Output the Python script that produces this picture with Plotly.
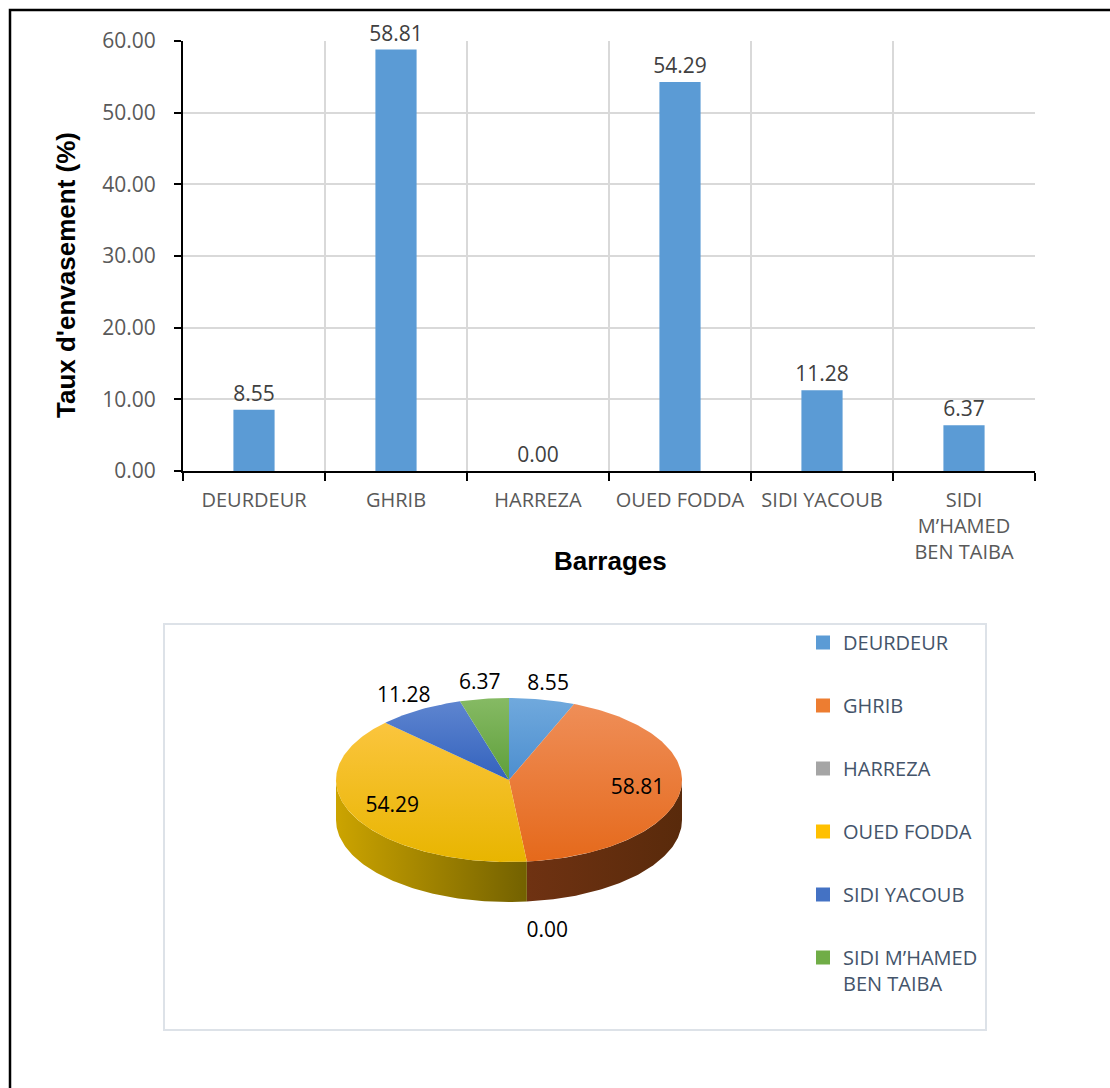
import numpy as np
import plotly.graph_objects as go

# ---------------- data ----------------
categories = ["DEURDEUR", "GHRIB", "HARREZA", "OUED FODDA", "SIDI YACOUB", "SIDI M’HAMED BEN TAIBA"]
bar_labels = ["DEURDEUR", "GHRIB", "HARREZA", "OUED FODDA", "SIDI YACOUB", "SIDI<br>M’HAMED<br>BEN TAIBA"]
legend_labels = ["DEURDEUR", "GHRIB", "HARREZA", "OUED FODDA", "SIDI YACOUB", "SIDI M’HAMED<br>BEN TAIBA"]
taux = [8.55, 58.81, 0.00, 54.29, 11.28, 6.37]
y_tick_values = [0, 10, 20, 30, 40, 50, 60]

y_title = "Taux d'envasement (%)"
x_title = "Barrages"

# ---------------- styles ----------------
W, H = 1110, 1088
BAR_COLOR = "#5B9BD5"
pie_colors = ["#5B9BD5", "#ED7D31", "#A5A5A5", "#FFC000", "#4472C4", "#70AD47"]
pie_top_grad = [("#4C8ECF", "#70A9DD"), ("#E5691B", "#EF8E58"), ("#8F8F8F", "#B5B5B5"),
                ("#E8B500", "#FBC53E"), ("#3362BD", "#5E85D0"), ("#5E9F3A", "#86BA64")]
pie_side_grad = [("#3D6E9C", "#2E5A85"), ("#6F3212", "#592A0B"), ("#6E6E6E", "#5A5A5A"),
                 ("#CCA400", "#736100"), ("#2C4C8A", "#223E73"), ("#4A7A2E", "#3B6324")]
XTICK_FONT = dict(family="Open Sans", size=20, color="#595959")
YTICK_FONT = dict(family="Open Sans", size=21, color="#595959")


def px_x(p):
    return p / W


def px_y(p):
    return 1 - p / H


fig = go.Figure()

# ---------------- bar chart ----------------
fig.add_trace(go.Bar(
    x=bar_labels, y=taux, marker=dict(color=BAR_COLOR, line=dict(width=0)),
    texttemplate="%{y:.2f}", textposition="outside", constraintext="none",
    textfont=dict(family="Open Sans", size=21, color="#404040"),
    cliponaxis=False, showlegend=False, hoverinfo="skip",
    xaxis="x", yaxis="y",
))

fig.update_layout(
    xaxis=dict(domain=[px_x(183), px_x(1035)], anchor="y", type="category",
               tickson="boundaries", ticks="outside", ticklen=8, tickwidth=2, tickcolor="black",
               showline=True, linecolor="black", linewidth=2,
               showgrid=True, gridcolor="#D9D9D9", gridwidth=1.5,
               tickfont=XTICK_FONT, ticklabelstandoff=10, automargin=False),
    yaxis=dict(domain=[px_y(471), px_y(41)], anchor="x", range=[0, 60],
               tickmode="array", tickvals=y_tick_values, tickformat=".2f",
               ticks="outside", ticklen=7, tickwidth=2, tickcolor="black",
               showline=True, linecolor="black", linewidth=2,
               showgrid=True, gridcolor="#D9D9D9", gridwidth=1.5, zeroline=False,
               tickfont=YTICK_FONT, ticklabelstandoff=14, automargin=False),
    bargap=0.71,
)

# ---------------- 3D-look pie (ellipse geometry) ----------------
SCALE = 173.0          # px per unit
CX, CY = 509.0, 780.0  # pie centre in px
A, B, D = 1.0, 82.0 / SCALE, 40.0 / SCALE
box_l, box_r, box_t, box_b = 164.5, 985.0, 624.5, 1029.0

total = sum(taux)
fracs = [v / total for v in taux]
starts = np.concatenate([[0.0], np.cumsum(fracs)[:-1]]) * 360.0
ends = starts + np.array(fracs) * 360.0


def arc(t0, t1):
    n = max(int(abs(t1 - t0) / 1.0) + 2, 3)
    t = np.radians(np.linspace(t0, t1, n))
    return A * np.sin(t), B * np.cos(t)

# side walls (front half only: 90..270 deg clockwise from 12 o'clock)
for i, (s, e) in enumerate(zip(starts, ends)):
    if taux[i] <= 0:
        continue
    t0, t1 = max(s, 90.0), min(e, 270.0)
    if t0 >= t1:
        continue
    ax_, ay_ = arc(t0, t1)
    xs = np.concatenate([ax_, ax_[::-1]])
    ys = np.concatenate([ay_, ay_[::-1] - D])
    c0, c1 = pie_side_grad[i]
    fig.add_trace(go.Scatter(
        x=xs, y=ys, mode="lines", fill="toself", line=dict(width=0),
        fillgradient=dict(type="horizontal", colorscale=[[0, c0], [1, c1]]),
        fillcolor=pie_colors[i], showlegend=False, hoverinfo="skip",
        xaxis="x2", yaxis="y2"))

# top faces
for i, (s, e) in enumerate(zip(starts, ends)):
    if taux[i] <= 0:
        continue
    ax_, ay_ = arc(s, e)
    xs = np.concatenate([[0.0], ax_, [0.0]])
    ys = np.concatenate([[0.0], ay_, [0.0]])
    c0, c1 = pie_top_grad[i]
    fig.add_trace(go.Scatter(
        x=xs, y=ys, mode="lines", fill="toself", line=dict(width=0),
        fillgradient=dict(type="vertical", colorscale=[[0, c0], [1, c1]]),
        fillcolor=pie_colors[i], showlegend=False, hoverinfo="skip",
        xaxis="x2", yaxis="y2"))

# data labels
lx, ly, lt = [], [], []
for i, (s, e) in enumerate(zip(starts, ends)):
    mid = np.radians((s + e) / 2.0)
    if fracs[i] < 0.10:
        r = 1.18
        x = r * A * np.sin(mid)
        y = r * B * np.cos(mid)
        if np.cos(mid) < 0:
            y -= D + 0.09
            x += 0.1
    else:
        r = 0.75
        x = r * A * np.sin(mid)
        y = r * B * np.cos(mid)
    lx.append(x)
    ly.append(y)
    lt.append(f"{taux[i]:.2f}")
fig.add_trace(go.Scatter(
    x=lx, y=ly, text=lt, mode="text", textposition="middle center",
    textfont=dict(family="Open Sans", size=21, color="black"),
    showlegend=False, hoverinfo="skip", xaxis="x2", yaxis="y2", cliponaxis=False))

# legend entries
for i, name in enumerate(legend_labels):
    fig.add_trace(go.Scatter(
        x=[None], y=[None], mode="markers", name=name, legendgroup=f"g{i}",
        marker=dict(symbol="square", size=14, color=pie_colors[i], line=dict(width=0)),
        xaxis="x2", yaxis="y2"))

fig.update_layout(
    xaxis2=dict(domain=[px_x(box_l), px_x(box_r)], anchor="y2",
                range=[(box_l - CX) / SCALE, (box_r - CX) / SCALE],
                showgrid=False, zeroline=False, showticklabels=False, ticks="",
                showline=True, mirror=True, linecolor="#DDE2E8", linewidth=2, automargin=False),
    yaxis2=dict(domain=[px_y(box_b), px_y(box_t)], anchor="x2",
                range=[(CY - box_b) / SCALE, (CY - box_t) / SCALE],
                showgrid=False, zeroline=False, showticklabels=False, ticks="",
                showline=True, mirror=True, linecolor="#DDE2E8", linewidth=2, automargin=False),
    legend=dict(x=px_x(803), y=px_y(623), xanchor="left", yanchor="top",
                font=dict(family="Open Sans", size=20, color="#44546A"),
                tracegroupgap=34, valign="top", bgcolor="rgba(0,0,0,0)",
                itemsizing="trace"),
)

# ---------------- titles ----------------
fig.add_annotation(text=y_title, x=px_x(66), y=px_y(275), xref="paper", yref="paper",
                   xanchor="center", yanchor="middle",
                   textangle=-90, showarrow=False,
                   font=dict(family="Liberation Sans", size=26, color="black", weight="bold"))
fig.add_annotation(text=x_title, x=px_x(610), y=px_y(561), xref="paper", yref="paper",
                   xanchor="center", yanchor="middle", showarrow=False,
                   font=dict(family="Liberation Sans", size=26, color="black", weight="bold"))

# outer frame
fig.add_shape(type="rect", xref="paper", yref="paper",
              x0=px_x(10), x1=1.05, y0=-0.05, y1=px_y(10),
              line=dict(color="black", width=2.5), fillcolor="rgba(0,0,0,0)")

fig.update_layout(width=W, height=H, margin=dict(l=0, r=0, t=0, b=0, autoexpand=False),
                  paper_bgcolor="white", plot_bgcolor="white", showlegend=True)

fig.write_html("out.html")
